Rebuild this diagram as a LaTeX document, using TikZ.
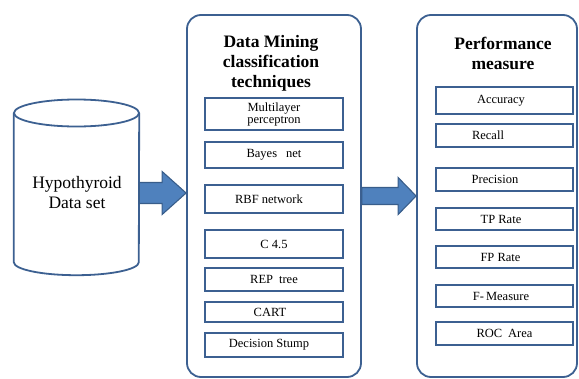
\documentclass[tikz,border=0pt]{standalone}
\usepackage{fontspec}
\setmainfont{Liberation Serif}
\usetikzlibrary{calc}
\definecolor{edge}{RGB}{60,96,145}
\definecolor{afill}{RGB}{79,129,189}
\definecolor{aedge}{RGB}{56,93,138}
\tikzset{
  container/.style={draw=edge, line width=1.8pt, rounded corners=14pt, inner sep=0pt},
  ibox/.style={draw=edge, line width=1.8pt, inner sep=0pt, align=center,
    font=\fontsize{12.5}{12}\selectfont},
  ttl/.style={align=center, inner sep=0pt, font=\fontsize{17.5}{20}\selectfont\bfseries},
  fatarrow/.style n args={3}{fill=afill, draw=aedge, line width=1.1pt,
    to path={let \p1=(\tikztostart), \p2=(\tikztotarget) in
      (\x1,\y1+#1) -- (\x2-#3,\y1+#1) -- (\x2-#3,\y1+#2) -- (\x2,\y1)
      -- (\x2-#3,\y1-#2) -- (\x2-#3,\y1-#1) -- (\x1,\y1-#1) -- cycle}},
}
\begin{document}
\begin{tikzpicture}[x=1pt,y=-1pt]
\useasboundingbox (0,0) rectangle (579,378);
% cylinder
\node[minimum width=125pt, minimum height=149pt, inner sep=0pt] (cyl) at (76.5,187.5) {};
\draw[edge, line width=1.8pt] (76.5,113) ellipse [x radius=62.5pt, y radius=13.5pt];
\draw[edge, line width=1.8pt] (cyl.north west) -- (cyl.south west)
  arc[start angle=180, end angle=360, x radius=62.5pt, y radius=13pt] -- (cyl.north east);
\node[align=center, inner sep=0pt, font=\fontsize{17.5}{20}\selectfont] (cyltext) at (77,193) {Hypothyroid\\Data set};
\coordinate (a1) at (cyl.east |- cyltext);
% containers
\node[container, minimum width=174pt, minimum height=362pt] (mid) at (274,196) {};
\node[container, minimum width=160pt, minimum height=362pt] (perf) at (497,196) {};
\node[ttl] (midttl) at (271,63) {Data Mining\\classification\\techniques};
\node[ttl] (perfttl) at (503,53.5) {Performance\\measure};
% middle boxes
\node[ibox, minimum width=138pt, minimum height=32pt] (m1) at (274,114) {Multilayer\\perceptron\hspace{10pt}};
\node[ibox, minimum width=138pt, minimum height=26pt] (m2) at (274,155) {Bayes\hspace{9pt}net};
\node[ibox, minimum width=138pt, minimum height=28pt] (m3) at (274,199) {RBF network\hspace{10pt}};
\node[ibox, minimum width=138pt, minimum height=28pt] (m4) at (274,244) {C 4.5};
\node[ibox, minimum width=138pt, minimum height=23pt] (m5) at (274,279.5) {REP\hspace{6pt}tree};
\node[ibox, minimum width=138pt, minimum height=20pt] (m6) at (274,312) {CART\hspace{8pt}};
\node[ibox, minimum width=138pt, minimum height=24pt] (m7) at (274,345) {Decision Stump\hspace{10pt}};
% right boxes
\node[ibox, minimum width=137pt, minimum height=27pt] (p1) at (504.5,100.5) {Accuracy\hspace{7pt}};
\node[ibox, minimum width=137pt, minimum height=23pt] (p2) at (504.5,135.5) {Recall\hspace{33pt}};
\node[ibox, minimum width=137pt, minimum height=23pt] (p3) at (504.5,179.5) {Precision\hspace{19pt}};
\node[ibox, minimum width=137pt, minimum height=22pt] (p4) at (504.5,219) {TP Rate\hspace{7pt}};
\node[ibox, minimum width=137pt, minimum height=22pt] (p5) at (504.5,257) {FP Rate\hspace{8pt}};
\node[ibox, minimum width=137pt, minimum height=22pt] (p6) at (504.5,296) {F-\,Measure\hspace{7pt}};
\node[ibox, minimum width=137pt, minimum height=23pt] (p7) at (504.5,333.5) {ROC\hspace{6pt}Area};
% arrows
\draw[fatarrow={10.5pt}{21.5pt}{24pt}] (a1) to (mid.west);
\draw[fatarrow={8.5pt}{18.5pt}{18pt}] (mid.east) to (perf.west);
\end{tikzpicture}
\end{document}
